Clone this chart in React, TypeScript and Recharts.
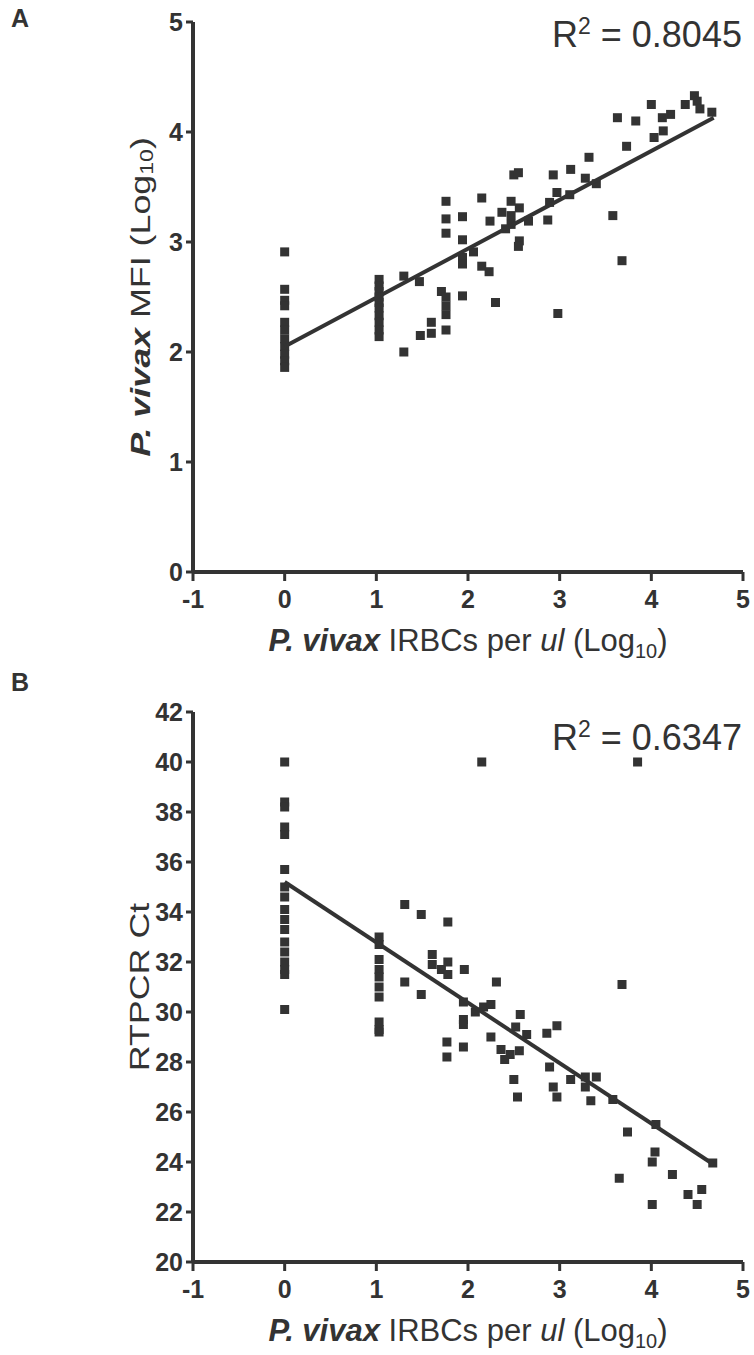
import { ScatterChart, Scatter, XAxis, YAxis, Label } from 'recharts';

// panel A: MFI vs parasitaemia
const aX = [
  0, 0, 0, 0, 0, 0, 0, 0, 0, 0, 0,
  1.03, 1.03, 1.03, 1.03, 1.03, 1.03, 1.03, 1.03, 1.03, 1.03,
  1.3, 1.47, 1.71, 1.76, 1.76, 1.76, 1.94, 2.3, 2.98, 1.6, 1.6, 1.48, 1.76, 1.3, 2.15, 2.23,
  1.76, 2.15, 2.47, 2.56, 2.37, 2.47, 1.76, 1.94, 2.24, 2.66, 2.87, 3.58, 2.47, 2.41, 1.76, 1.94,
  2.56, 2.55, 2.06, 1.94, 1.94, 3.68,
  2.5, 2.55, 2.93, 3.12, 3.28, 3.4, 2.97, 3.11, 2.89, 3.32,
  3.73, 4.03, 4.13, 3.63, 3.83, 4.12, 4.21, 4.0, 4.37, 4.47, 4.5, 4.53, 4.66,
];
const aY = [
  2.91, 2.57, 2.47, 2.42, 2.27, 2.2, 2.12, 2.05, 1.98, 1.92, 1.86,
  2.66, 2.6, 2.55, 2.5, 2.45, 2.4, 2.33, 2.27, 2.2, 2.14,
  2.69, 2.64, 2.55, 2.5, 2.42, 2.34, 2.51, 2.45, 2.35, 2.27, 2.17, 2.15, 2.2, 2.0, 2.78, 2.73,
  3.37, 3.4, 3.37, 3.31, 3.27, 3.24, 3.21, 3.23, 3.19, 3.19, 3.2, 3.24, 3.16, 3.12, 3.08, 3.02,
  3.01, 2.96, 2.91, 2.86, 2.8, 2.83,
  3.61, 3.63, 3.61, 3.66, 3.58, 3.53, 3.45, 3.43, 3.36, 3.77,
  3.87, 3.95, 4.01, 4.13, 4.1, 4.13, 4.16, 4.25, 4.25, 4.33, 4.28, 4.21, 4.18,
];

// panel B: RT-PCR Ct vs parasitaemia
const bX = [
  0, 0, 0, 0, 0, 0, 0, 0, 0, 0, 0, 0, 0, 0, 0, 0, 0,
  1.03, 1.03, 1.03, 1.03, 1.03, 1.03, 1.03, 1.03, 1.03, 1.03,
  2.15, 3.85,
  1.31, 1.49, 1.78, 1.61, 1.61, 1.71, 1.78, 1.78, 1.96, 1.31, 1.49, 2.31, 3.68,
  1.95, 2.08, 2.17, 2.25, 1.95, 1.95, 2.57, 2.52, 2.64, 2.86, 2.97, 2.25, 1.77, 1.77, 1.95,
  2.36, 2.46, 2.56, 2.4, 2.89, 3.12, 3.28, 3.4, 3.28, 2.5, 2.93, 2.54, 2.97, 3.34, 3.58,
  4.05, 3.74, 4.04, 4.01, 4.23, 3.65, 4.01, 4.4, 4.55, 4.5, 4.67,
];
const bY = [
  40.0, 38.4, 38.2, 37.4, 37.1, 35.7, 35.0, 34.6, 34.1, 33.7, 33.3, 32.8, 32.4, 32.0, 31.7, 31.5, 30.1,
  33.0, 32.7, 32.1, 31.7, 31.4, 31.0, 30.6, 29.6, 29.3, 29.2,
  40.0, 40.0,
  34.3, 33.9, 33.6, 32.3, 31.9, 31.7, 32.0, 31.5, 31.7, 31.2, 30.7, 31.2, 31.1,
  30.4, 30.0, 30.2, 30.3, 29.7, 29.5, 29.9, 29.4, 29.1, 29.15, 29.45, 29.0, 28.8, 28.2, 28.6,
  28.5, 28.3, 28.45, 28.1, 27.8, 27.3, 27.4, 27.4, 27.0, 27.3, 27.0, 26.6, 26.6, 26.45, 26.5,
  25.5, 25.2, 24.4, 24.0, 23.5, 23.35, 22.3, 22.7, 22.9, 22.3, 23.96,
];

// fitted regression lines (end points)
const fitX = [0, 4.68];
const fitA = [2.05, 4.13];
const fitB = [35.2, 23.9];

const xTicks = [-1, 0, 1, 2, 3, 4, 5];
const aTicks = [0, 1, 2, 3, 4, 5];
const bTicks = [20, 22, 24, 26, 28, 30, 32, 34, 36, 38, 40, 42];

const INK = '#333333';
const FONT = '"Liberation Sans", Arial, Helvetica, sans-serif';

const toPoints = (xs: number[], ys: number[]) => xs.map((x, i) => ({ x, y: ys[i] }));

const Square = (props: any) => {
  const { cx, cy } = props;
  if (cx == null || cy == null) return null;
  return <rect x={cx - 4.5} y={cy - 4.5} width={9} height={9} fill={INK} />;
};

const NoDot = () => null;

const tickStyle = { fontFamily: FONT, fontWeight: 'bold', fontSize: 25, fill: INK };

const XTitle = ({ viewBox }: any) => {
  const cx = viewBox.x + viewBox.width / 2;
  const y = viewBox.y + 79;
  return (
    <text x={cx} y={y} textAnchor="middle" fontFamily={FONT} fontSize={31} fill={INK}>
      <tspan fontStyle="italic" fontWeight="bold">P. vivax</tspan>
      <tspan> IRBCs per </tspan>
      <tspan fontStyle="italic">ul</tspan>
      <tspan> (Log</tspan>
      <tspan fontSize={20} dy={7}>10</tspan>
      <tspan dy={-7}>)</tspan>
    </text>
  );
};

// vertical titles are drawn a little stretched along their length, as in the figure
const YTitleA = ({ viewBox }: any) => {
  const cx = 140;
  const cy = viewBox.y + viewBox.height / 2;
  return (
    <text x={0} y={0} transform={`translate(${cx},${cy}) rotate(-90) scale(1.28,1)`} textAnchor="middle"
      fontFamily={FONT} fontSize={28} fill={INK} dominantBaseline="central">
      <tspan fontStyle="italic" fontWeight="bold">P. vivax</tspan>
      <tspan> MFI (Log</tspan>
      <tspan fontSize={18} dy={6}>10</tspan>
      <tspan dy={-6}>)</tspan>
    </text>
  );
};

const YTitleB = ({ viewBox }: any) => {
  const cx = 139;
  const cy = viewBox.y + viewBox.height / 2;
  return (
    <text x={0} y={0} transform={`translate(${cx},${cy}) rotate(-90) scale(1.28,1)`} textAnchor="middle"
      fontFamily={FONT} fontSize={28} fill={INK} dominantBaseline="central">
      RTPCR Ct
    </text>
  );
};

const Panel = ({ points, fit, yDomain, yTicks, yTitle, top, height, marginTop }: any) => (
  <div style={{ position: 'absolute', left: 0, top }}>
    <ScatterChart width={754} height={height} margin={{ top: marginTop, right: 11, left: 0, bottom: 0 }}>
      <XAxis
        type="number"
        dataKey="x"
        domain={[-1, 5]}
        ticks={xTicks}
        interval={0}
        height={height - marginTop - 550}
        axisLine={{ stroke: INK, strokeWidth: 4 }}
        tickLine={{ stroke: INK, strokeWidth: 3 }}
        tickSize={9}
        tickMargin={9}
        tick={tickStyle}
      >
        <Label content={XTitle} />
      </XAxis>
      <YAxis
        type="number"
        dataKey="y"
        domain={yDomain}
        ticks={yTicks}
        interval={0}
        width={193}
        axisLine={{ stroke: INK, strokeWidth: 4 }}
        tickLine={{ stroke: INK, strokeWidth: 3 }}
        tickSize={7}
        tickMargin={3}
        tick={tickStyle}
      >
        <Label content={yTitle} />
      </YAxis>
      <Scatter data={points} shape={Square} isAnimationActive={false} />
      <Scatter
        data={fit}
        shape={NoDot}
        line={{ stroke: INK, strokeWidth: 4 }}
        lineType="joint"
        isAnimationActive={false}
      />
    </ScatterChart>
  </div>
);

const letterStyle: any = {
  position: 'absolute', left: 11, fontFamily: FONT, fontWeight: 'bold', fontSize: 25, color: INK, lineHeight: 1,
};
const r2Style: any = {
  position: 'absolute', left: 552, fontFamily: FONT, fontSize: 36, color: INK, lineHeight: 1, whiteSpace: 'nowrap',
};
const supStyle: any = { fontSize: 23, lineHeight: 0, verticalAlign: 'super' };

export default function App() {
  return (
    <div style={{ position: 'absolute', left: 0, top: 0, width: 754, height: 1355, background: '#fff' }}>
      <Panel
        points={toPoints(aX, aY)}
        fit={toPoints(fitX, fitA)}
        yDomain={[0, 5]}
        yTicks={aTicks}
        yTitle={YTitleA}
        top={0}
        height={680}
        marginTop={22}
      />
      <Panel
        points={toPoints(bX, bY)}
        fit={toPoints(fitX, fitB)}
        yDomain={[20, 42]}
        yTicks={bTicks}
        yTitle={YTitleB}
        top={680}
        height={675}
        marginTop={32}
      />
      <div style={{ ...letterStyle, top: 6 }}>A</div>
      <div style={{ ...letterStyle, top: 670 }}>B</div>
      <div style={{ ...r2Style, top: 17 }}>R<span style={supStyle}>2</span> = 0.8045</div>
      <div style={{ ...r2Style, top: 720 }}>R<span style={supStyle}>2</span> = 0.6347</div>
    </div>
  );
}
